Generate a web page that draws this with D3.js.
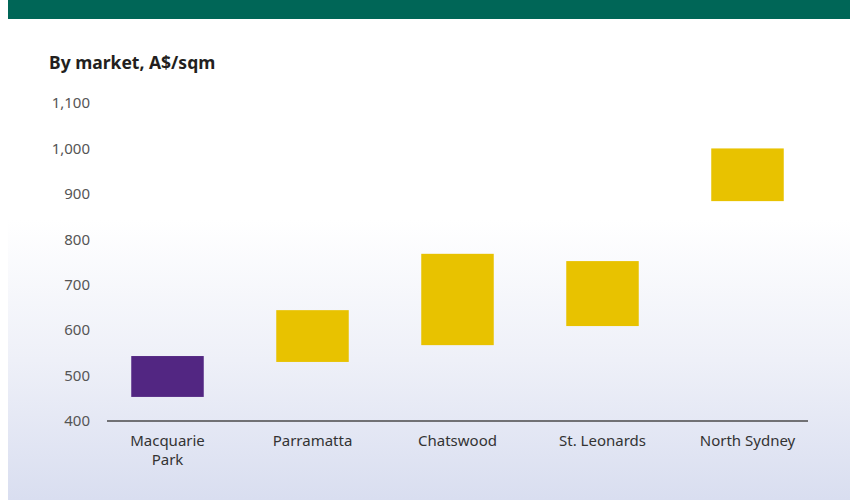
<!DOCTYPE html>
<html>
<head>
<meta charset="utf-8">
<script src="https://cdn.jsdelivr.net/npm/d3@7"></script>
<style>
  html, body { margin: 0; padding: 0; background: #fff; }
  svg { display: block; }
  text { font-family: "Noto Sans", "Open Sans", sans-serif; }
</style>
</head>
<body>
<svg id="chart" width="850" height="500"></svg>
<script>
// Office rents by market, A$/sqm (low and high of each range)
const markets = ["Macquarie Park", "Parramatta", "Chatswood", "St. Leonards", "North Sydney"];
const rentLow = [453, 530, 567, 609, 884];
const rentHigh = [543, 644, 768, 752, 1000];
const barColors = ["#522682", "#e8c200", "#e8c200", "#e8c200", "#e8c200"];
const yTicks = [400, 500, 600, 700, 800, 900, 1000, 1100];
const titleText = "By market, A$/sqm";

const FONT = "'Noto Sans', 'Open Sans', sans-serif";
const svg = d3.select("#chart");
const W = 850, H = 500;

// Background panel with soft lavender fade toward the bottom
const defs = svg.append("defs");
const grad = defs.append("linearGradient")
  .attr("id", "bgFade").attr("x1", 0).attr("y1", 0).attr("x2", 0).attr("y2", 1);
grad.append("stop").attr("offset", "0%").attr("stop-color", "#ffffff");
grad.append("stop").attr("offset", "44%").attr("stop-color", "#ffffff");
grad.append("stop").attr("offset", "72%").attr("stop-color", "#eef0f8");
grad.append("stop").attr("offset", "100%").attr("stop-color", "#d9def0");

svg.append("rect").attr("x", 8).attr("y", 0).attr("width", W - 8).attr("height", H)
  .attr("fill", "url(#bgFade)");

// Header band
svg.append("rect").attr("x", 8).attr("y", 0).attr("width", W - 8).attr("height", 19)
  .attr("fill", "#006657");

// Title
svg.append("text")
  .attr("x", 49).attr("y", 69)
  .attr("font-family", FONT)
  .attr("font-size", 17.5).attr("font-weight", 700).attr("fill", "#231f20")
  .text(titleText);

// Scales
const x = d3.scaleBand().domain(markets).range([95, 820])
  .paddingInner(0.5).paddingOuter(0.25);
const y = d3.scaleLinear().domain([400, 1100]).range([421, 103]);

// Y axis labels (no axis line or ticks)
const yAxis = d3.axisLeft(y).tickValues(yTicks).tickFormat(d3.format(",")).tickSize(0).tickPadding(0);
const yg = svg.append("g").attr("transform", "translate(90,0)").call(yAxis);
yg.select(".domain").remove();
yg.selectAll("text")
  .attr("font-family", FONT)
  .attr("font-size", 15).attr("fill", "#555");

// Floating range bars
const data = markets.map((m, i) => ({ m, lo: rentLow[i], hi: rentHigh[i], c: barColors[i] }));
svg.append("g").selectAll("rect").data(data).join("rect")
  .attr("x", d => x(d.m))
  .attr("width", x.bandwidth())
  .attr("y", d => y(d.hi))
  .attr("height", d => y(d.lo) - y(d.hi))
  .attr("fill", d => d.c);

// Baseline
svg.append("line")
  .attr("x1", 107).attr("x2", 808)
  .attr("y1", y(400)).attr("y2", y(400))
  .attr("stroke", "#4a4a4a").attr("stroke-width", 1.3);

// X axis labels, wrapped onto two lines where needed
const wrap = { "Macquarie Park": ["Macquarie", "Park"] };
const xl = svg.append("g").selectAll("text").data(markets).join("text")
  .attr("x", d => x(d) + x.bandwidth() / 2)
  .attr("y", 446)
  .attr("text-anchor", "middle")
  .attr("font-family", FONT)
  .attr("font-size", 15).attr("fill", "#333");
xl.each(function (d) {
  const lines = wrap[d] || [d];
  const t = d3.select(this);
  lines.forEach((ln, i) => {
    t.append("tspan").attr("x", x(d) + x.bandwidth() / 2).attr("dy", i === 0 ? 0 : 18.5).text(ln);
  });
});
</script>
</body>
</html>
